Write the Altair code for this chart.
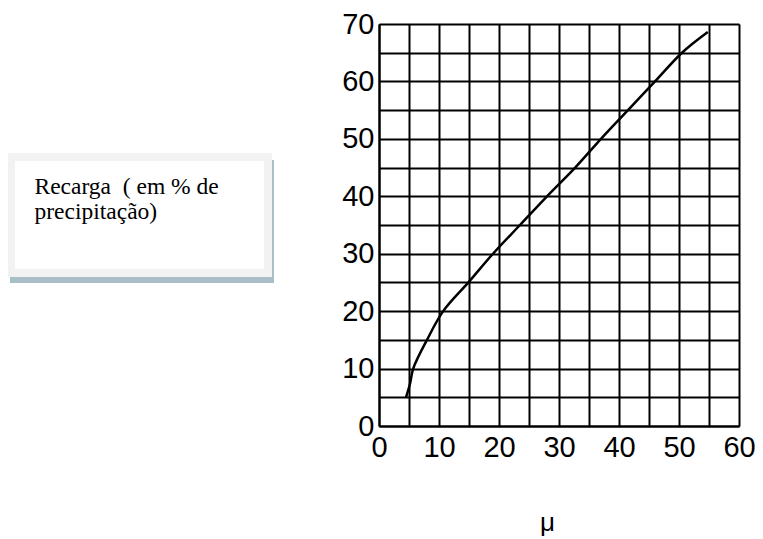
import altair as alt
import pandas as pd

# Curve
mu = [4.5, 5.2, 5.7, 8.0, 10.7, 14.9, 19.0, 23.5, 28.0, 32.7, 37.0, 41.5, 46.0, 50.5, 54.8]
recarga = [5.0, 7.5, 10.0, 15.0, 20.0, 25.0, 30.0, 35.0, 40.0, 45.0, 50.0, 55.0, 60.0, 65.0, 68.6]

# Grid / tick values
x_grid = list(range(0, 61, 5))
y_grid = list(range(0, 71, 5))

y_title = ["Recarga\u00a0 ( em % de", "precipitação)"]
x_title = "μ"

df = pd.DataFrame({"mu": mu, "recarga": recarga})
box_df = pd.DataFrame({"k": [0]})

shadow = alt.Chart(box_df).mark_rect(fill="#a9bec8").encode(
    x=alt.value(-369), x2=alt.value(-105), y=alt.value(136), y2=alt.value(259)
)
box = alt.Chart(box_df).mark_rect(fill="white", stroke="#f2f2f2", strokeWidth=8).encode(
    x=alt.value(-368), x2=alt.value(-111), y=alt.value(133), y2=alt.value(249)
)

label_expr = "datum.value % 10 == 0 ? datum.label : ''"

line = alt.Chart(df).mark_line(color="black", strokeWidth=2.5, interpolate="catmull-rom").encode(
    x=alt.X(
        "mu:Q",
        scale=alt.Scale(domain=[0, 60], nice=False, zero=True),
        axis=alt.Axis(
            values=x_grid,
            labelExpr=label_expr,
            title=x_title,
            titleFont="Liberation Sans",
            titleFontSize=26,
            titleFontWeight="normal",
            titleColor="black",
            titleX=168,
            titleY=104,
            titleAlign="center",
            titleBaseline="alphabetic",
            labelFont="Liberation Sans",
            labelFontSize=29,
            labelColor="black",
            labelPadding=7,
            labelFlush=False,
            labelOverlap=False,
            ticks=False,
            grid=True,
            gridColor="black",
            gridWidth=2,
            gridOpacity=1,
            domainColor="black",
            domainWidth=2,
        ),
    ),
    y=alt.Y(
        "recarga:Q",
        scale=alt.Scale(domain=[0, 70], nice=False, zero=True),
        axis=alt.Axis(
            values=y_grid,
            labelExpr=label_expr,
            title=y_title,
            titleFont="Liberation Serif",
            titleFontSize=23.5,
            titleFontWeight="normal",
            titleColor="black",
            titleAngle=0,
            titleAlign="left",
            titleBaseline="alphabetic",
            titleLineHeight=25,
            titleX=-345,
            titleY=169,
            labelFont="Liberation Sans",
            labelFontSize=29,
            labelColor="black",
            labelPadding=5,
            labelFlush=False,
            labelOverlap=False,
            ticks=False,
            grid=True,
            gridColor="black",
            gridWidth=2,
            gridOpacity=1,
            domainColor="black",
            domainWidth=2,
            zindex=1,
        ),
    ),
)

chart = alt.layer(shadow, box, line).properties(
    width=360,
    height=402,
    autosize=alt.AutoSizeParams(type="none"),
    padding={"left": 371, "top": 16, "right": 16, "bottom": 112},
).configure_view(stroke=None).configure(background="white")

chart.save("out.html", embed_options={"renderer": "svg", "actions": False})
